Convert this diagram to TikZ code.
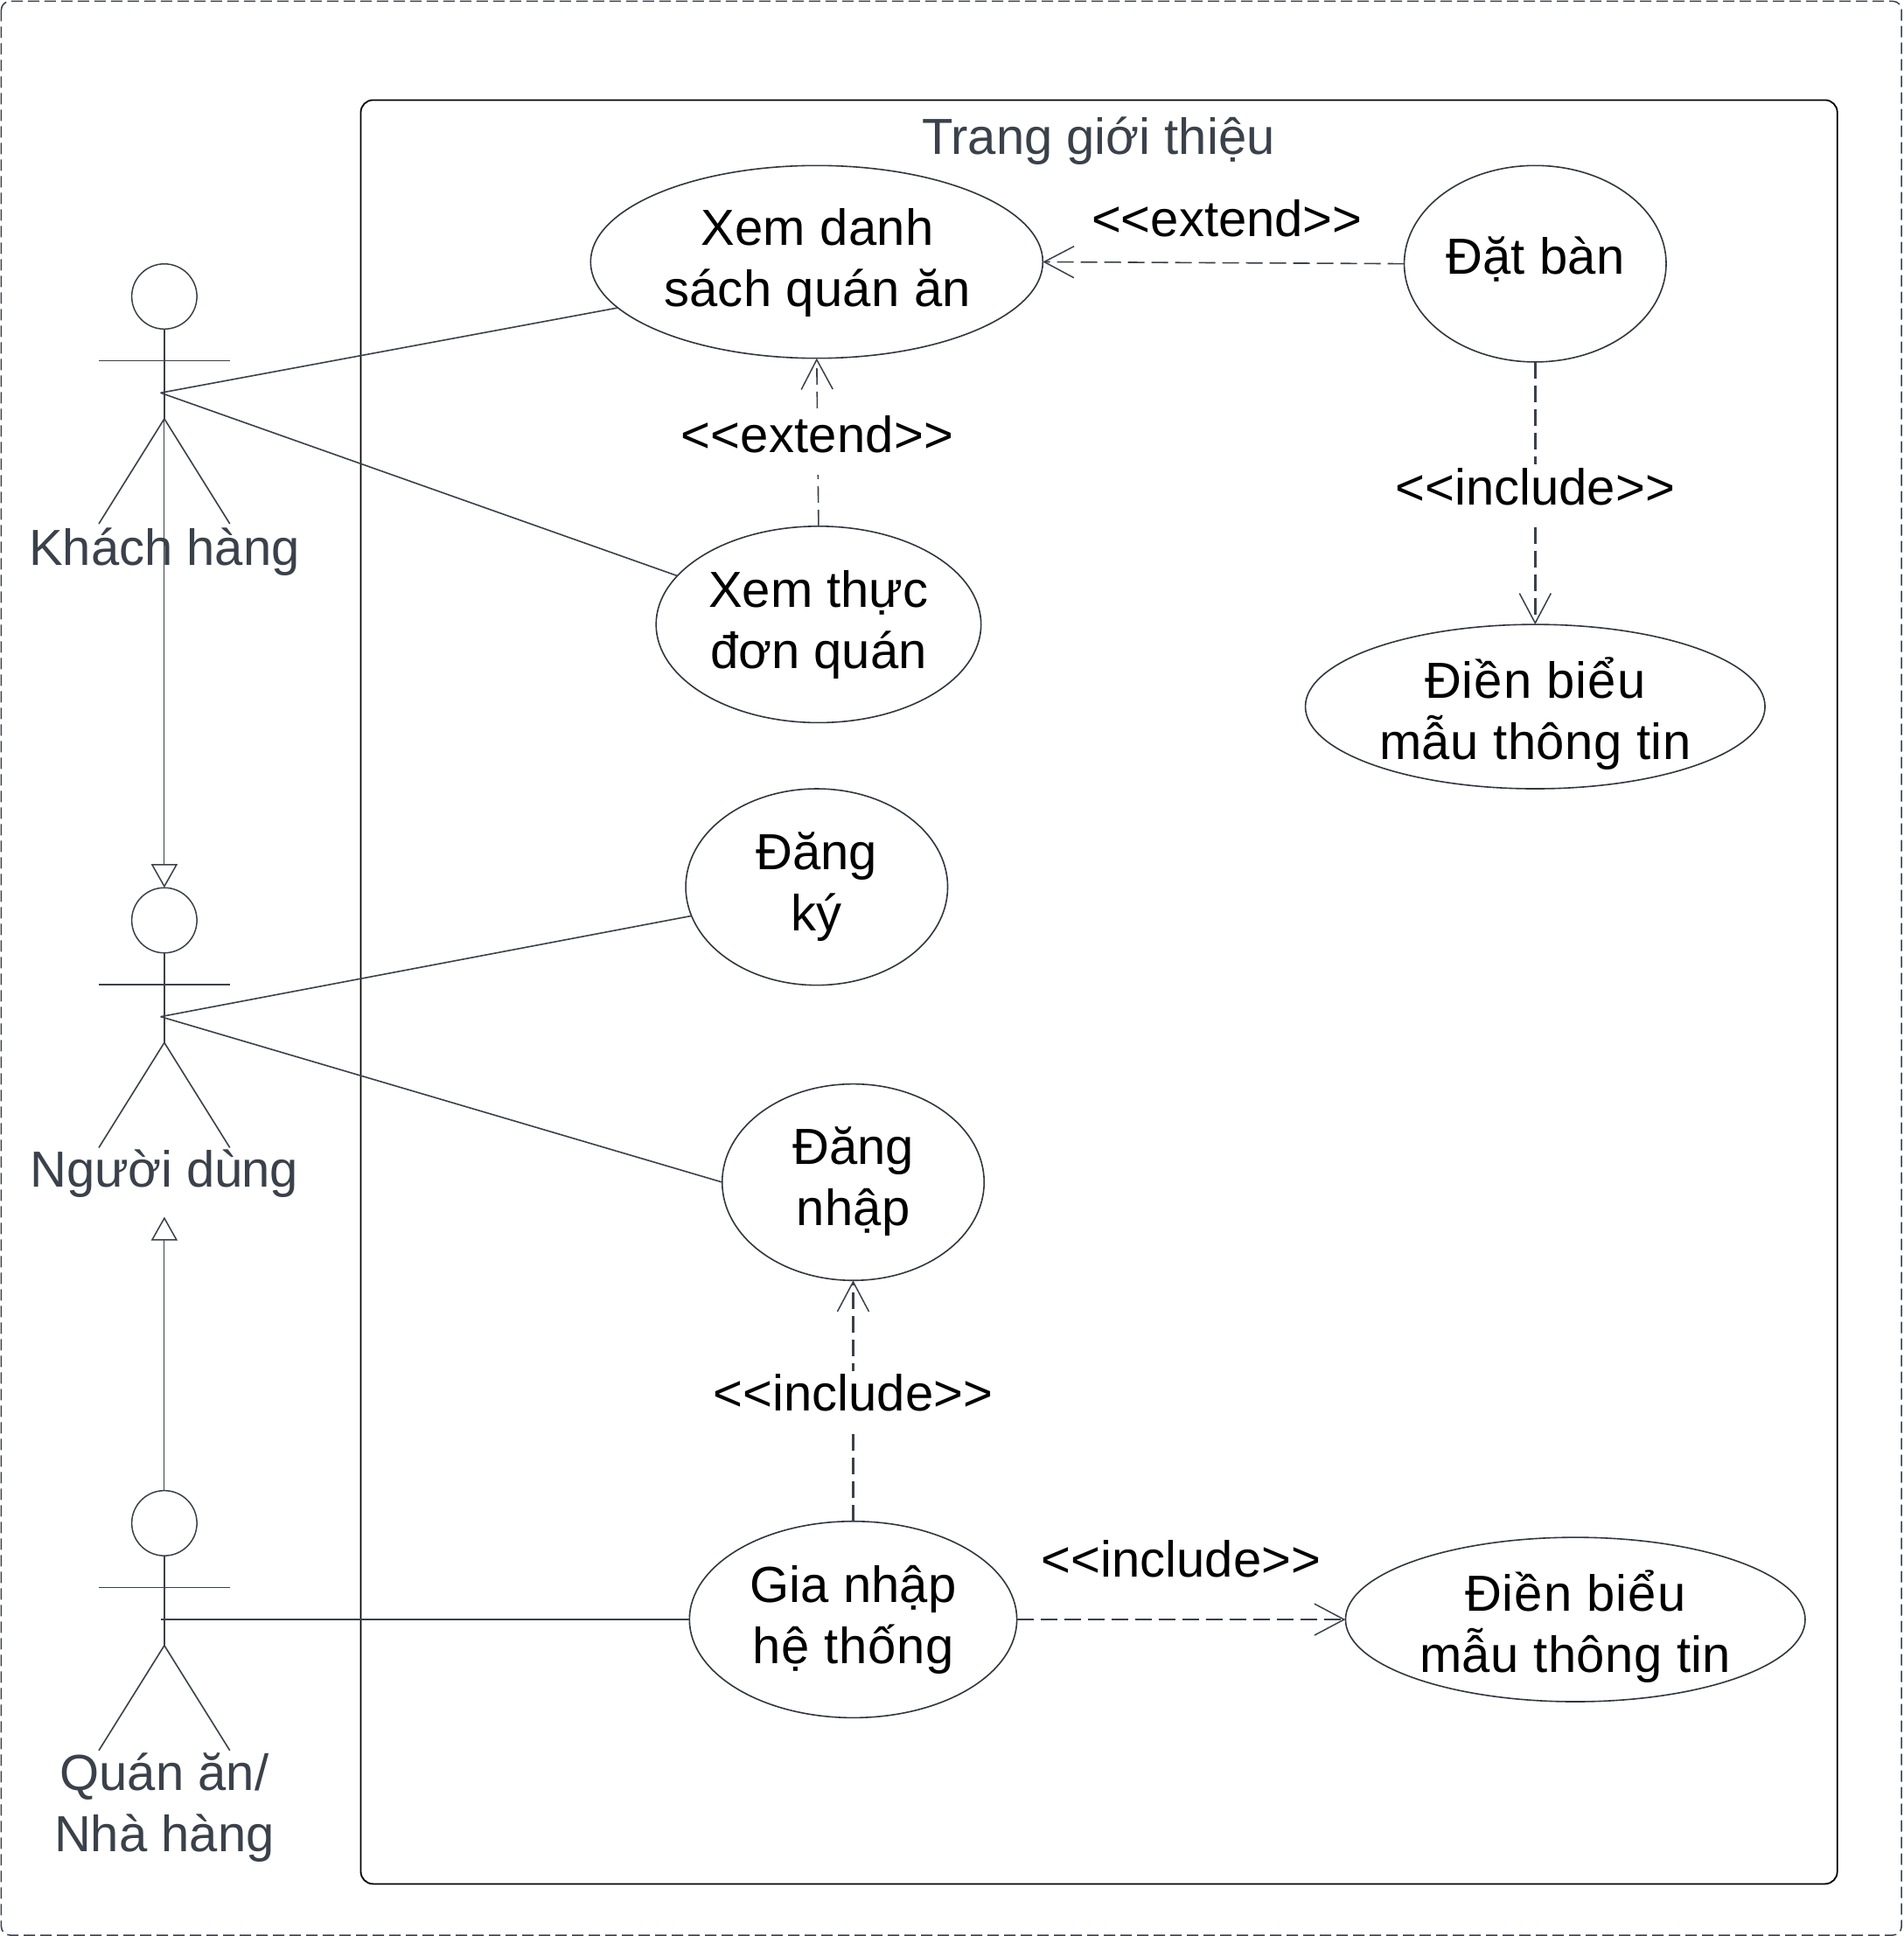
\documentclass[tikz,border=0pt]{standalone}
\usepackage{fontspec}
\setmainfont{Liberation Sans}
\usetikzlibrary{shapes.geometric,arrows.meta}
\definecolor{ink}{HTML}{3A414A}
\newcommand{\lsp}[2]{{\addfontfeature{LetterSpace=#1}#2}}
\tikzset{
  x=1.41272pt,y=-1.41272pt,
  every node/.style={font=\fontsize{58}{70}\selectfont,align=center,inner sep=0pt,outer sep=0pt},
  uc/.style 2 args={ellipse,draw=ink!85!black,line width=1.6pt,fill=white,
    minimum width=#1*2.82544pt,minimum height=#2*2.82544pt},
  head/.style={circle,draw=ink,line width=1.5pt,minimum size=74.5pt},
  limb/.style={draw=ink,line width=1.6pt},
  assoc/.style={draw=ink,line width=1.6pt},
  gener/.style={draw=ink,line width=1pt,-{Triangle[open,fill=white,length=27pt,width=30pt,line width=1.5pt]}},
  dep/.style={draw=ink,line width=1.6pt,dash pattern=on 19pt off 8pt,
    -{Straight Barb[length=34pt,width=36pt,line width=1.5pt]}},
  depheavy/.style={dep,line width=2.6pt},
  stereo/.style={text=black},
  stereobg/.style={text=black,fill=white,inner xsep=2pt,text height=46pt,text depth=25pt},
  actorlabel/.style={text=ink},
}
\newcommand{\stickfig}[4]{% name, head y, label, label y
  \node[head] (#1h) at (133,#2) {};
  \coordinate (#1hip) at (133,#2+99);
  \draw[limb] (#1h.south) -- (#1hip);
  \draw[limb] (80,#2+52) -- (186,#2+52);
  \draw[limb] (#1hip) -- (80,#2+184);
  \draw[limb] (#1hip) -- (186,#2+184);
  \node[actorlabel] (#1l) at (133,#4) {#3};
}
\begin{document}
\begin{tikzpicture}
\useasboundingbox (0,0) rectangle (1541,1567.2);
\fill[white] (0,0) rectangle (1541,1567.2);
\draw[draw=ink,line width=1.5pt,dash pattern=on 13pt off 6pt,rounded corners=10pt] (1,1) rectangle (1539,1566.5);
\draw[black,line width=1.8pt,rounded corners=14pt] (292,81) rectangle (1487,1525);
\node[actorlabel] (title) at (889,114) {Trang giới thiệu};

\stickfig{a}{240}{Khách hàng}{447}
\stickfig{b}{745}{\lsp{-0.5}{Người dùng}}{950}
\stickfig{c}{1233}{Quán ăn/\\Nhà hàng}{1463}

\node[uc={183}{78}] (e1) at (661,212) {};
\node (t1) at (661.5,212.5) {\lsp{0.5}{Xem danh}\\\lsp{0.5}{sách quán ăn}};
\node[uc={106}{79.5}] (e2) at (1242.5,213.5) {};
\node (t2) at (1242.5,210) {\lsp{0.5}{Đặt bàn}};
\node[uc={131.5}{79.5}] (e3) at (662.5,505.5) {Xem thực\\đơn quán};
\node[uc={186}{66.5}] (e4) at (1242.5,572) {};
\node (t4) at (1242.5,578) {\lsp{1.8}{Điền biểu}\\\lsp{0.8}{mẫu thông tin}};
\node[uc={106}{79.5}] (e5) at (661,718) {Đăng\\ký};
\node[uc={106}{79.5}] (e6) at (690.5,957) {};
\node (t6) at (690.5,956.5) {Đăng\\\lsp{0.5}{nhập}};
\node[uc={132.5}{79.5}] (e7) at (690.5,1311) {\lsp{0.3}{Gia nhập}\\\lsp{1.2}{hệ thống}};
\node[uc={186}{66.5}] (e8) at (1275,1311) {};
\node (t8) at (1275,1317) {\lsp{1.8}{Điền biểu}\\\lsp{0.8}{mẫu thông tin}};

\coordinate (wa) at (130,318);
\coordinate (wb) at (130,823);
\coordinate (wc) at (130,1311);
\draw[assoc] (wa) -- (e1.193.5);
\draw[assoc] (wa) -- (e3.161);
\draw[assoc] (wb) -- (e5.193);
\draw[assoc] (wb) -- (e6.west);
\draw[assoc] (wc) -- (e7.west);

\draw[gener] (ahip) -- (bh.north);
\coordinate (bgen) at (133,985);
\draw[gener] (ch.north) -- (bgen);

\draw[dep] (e2.west) -- (e1.east);
\node[stereo] (l1) at (993,177) {<{}<extend>{}>};
\draw[dep] (e3.north) -- (e1.south);
\node[stereobg] (l2) at (661.5,359) {\lsp{0.3}{<{}<extend>{}>}};
\draw[depheavy] (e2.south) -- (e4.north);
\node[stereobg] (l3) at (1242.5,401) {<{}<include>{}>};
\draw[depheavy] (e7.north) -- (e6.south);
\node[stereobg] (l4) at (690.5,1135) {<{}<include>{}>};
\draw[dep] (e7.east) -- (e8.west);
\node[stereo] (l5) at (956,1262) {<{}<include>{}>};
\end{tikzpicture}
\end{document}
